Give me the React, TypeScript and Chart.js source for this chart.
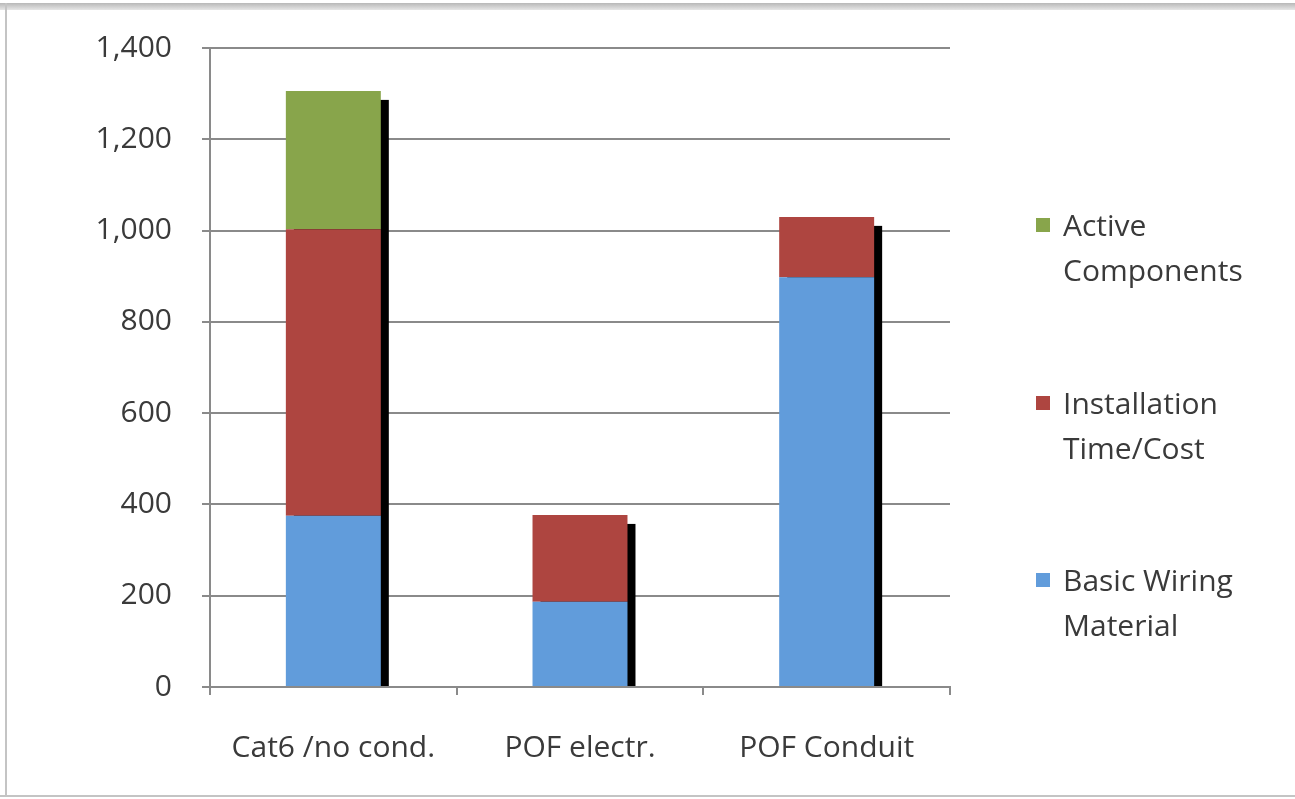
import React, { useEffect, useRef } from "react";
import { Chart, registerables } from "chart.js";

Chart.register(...registerables);

const categories = ["Cat6 /no cond.", "POF electr.", "POF Conduit"];
const basicWiring = [375, 187, 898];
const installation = [628, 190, 132];
const activeComponents = [303, 0, 0];
const yTicks = [0, 200, 400, 600, 800, 1000, 1200, 1400];

const seriesNames = ["Basic Wiring Material", "Installation Time/Cost", "Active Components"];
const legendLines = [["Active", "Components"], ["Installation", "Time/Cost"], ["Basic Wiring", "Material"]];
const colors = ["#619CDB", "#AE4540", "#88A54B"];
const legendColors = ["#88A54B", "#AE4540", "#619CDB"];

const FONT = "'Open Sans', sans-serif";

const shadowPlugin = {
  id: "barShadow",
  beforeDatasetsDraw(chart: any) {
    const ctx = chart.ctx;
    const area = chart.chartArea;
    const yScale = chart.scales.y;
    const zero = yScale.getPixelForValue(0) - 1;
    const n = chart.data.labels.length;
    ctx.save();
    for (let i = 0; i < n; i++) {
      let top: any = null;
      chart.data.datasets.forEach((ds: any, di: number) => {
        if (ds.data[i] > 0) top = chart.getDatasetMeta(di).data[i];
      });
      if (!top) continue;
      const w = top.width;
      ctx.fillStyle = "#000";
      ctx.fillRect(top.x - w / 2 + 8, top.y + 9, w, zero - (top.y + 9));
    }
    ctx.restore();
  },
};

export default function App() {
  const ref = useRef<HTMLCanvasElement>(null);
  useEffect(() => {
    if (!ref.current) return;
    const data = [basicWiring, installation, activeComponents];
    const chart = new Chart(ref.current, {
      type: "bar",
      data: {
        labels: categories,
        datasets: data.map((d, i) => ({
          label: seriesNames[i],
          data: d,
          backgroundColor: colors[i],
          borderWidth: 0,
          barPercentage: 0.385,
          categoryPercentage: 1,
        })),
      },
      options: {
        responsive: false,
        animation: false,
        devicePixelRatio: 1,
        layout: { padding: { top: 46, right: 345, bottom: 0, left: 0 } },
        plugins: { legend: { display: false }, tooltip: { enabled: false } },
        scales: {
          x: {
            stacked: true,
            afterFit: (s: any) => { s.height = 112; },
            grid: { offset: true, drawOnChartArea: false, drawTicks: true, tickLength: 8, color: "#8a8a8a", lineWidth: 2 },
            border: { display: true, color: "#8a8a8a", width: 2 },
            ticks: { color: "#3a3a3a", font: { family: FONT, size: 30 }, padding: 35, maxRotation: 0 },
          },
          y: {
            stacked: true,
            min: 0,
            max: 1400,
            afterFit: (s: any) => { s.width = 210; },
            afterBuildTicks: (s: any) => { s.ticks = yTicks.map((v) => ({ value: v })); },
            grid: { color: "#8a8a8a", lineWidth: 2, tickLength: 8 },
            border: { display: true, color: "#8a8a8a", width: 2 },
            ticks: {
              color: "#3a3a3a",
              font: { family: FONT, size: 30 },
              padding: 30,
              callback: (v: any) => Number(v).toLocaleString("en-US"),
            },
          },
        },
      },
      plugins: [shadowPlugin],
    });
    return () => chart.destroy();
  }, []);

  const entryTops = [202, 380, 557];
  return (
    <div style={{ position: "absolute", left: 0, top: 0, width: 1295, height: 799, background: "#fff", overflow: "hidden" }}>
      <div style={{ position: "absolute", left: 0, top: 3, width: 1295, height: 7, background: "linear-gradient(#b8b8b8, #e6e6e6)" }} />
      <div style={{ position: "absolute", left: 5, top: 3, width: 2, height: 794, background: "#c4c4c4" }} />
      <div style={{ position: "absolute", left: 0, top: 795, width: 1295, height: 2, background: "#c4c4c4" }} />
      <canvas ref={ref} width={1295} height={799} style={{ position: "absolute", left: 0, top: 0 }} />
      {legendLines.map((lines, i) => (
        <div key={i} style={{ position: "absolute", left: 1036, top: entryTops[i], fontFamily: FONT, fontSize: 30, lineHeight: "45px", color: "#3a3a3a" }}>
          <div style={{ position: "absolute", left: 0, top: 16, width: 14, height: 14, background: legendColors[i] }} />
          <div style={{ marginLeft: 27, whiteSpace: "nowrap" }}>
            {lines.map((l, j) => (<div key={j}>{l}</div>))}
          </div>
        </div>
      ))}
    </div>
  );
}
